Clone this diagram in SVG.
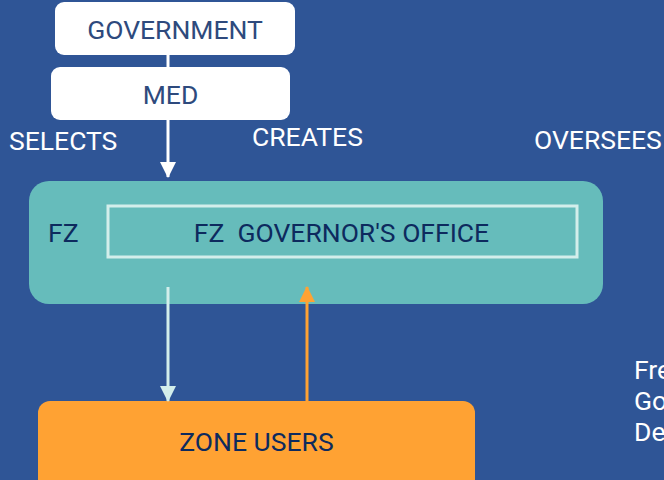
<svg xmlns="http://www.w3.org/2000/svg" width="664" height="480" viewBox="0 0 664 480">
<defs>
<style>
.t{font-family:Roboto,"Liberation Sans",sans-serif;font-size:26.5px}
.w{fill:#ffffff}
.n{fill:#2E4A7D}
.d{fill:#0D2A5E}
</style>
<marker id="aw" markerUnits="userSpaceOnUse" markerWidth="16" markerHeight="16" refX="15" refY="8" orient="auto"><path d="M0,0 L16,8 L0,16 Z" fill="#ffffff"/></marker>
<marker id="al" markerUnits="userSpaceOnUse" markerWidth="16" markerHeight="16" refX="15" refY="8" orient="auto"><path d="M0,0 L16,8 L0,16 Z" fill="#D3EEEB"/></marker>
<marker id="ao" markerUnits="userSpaceOnUse" markerWidth="16" markerHeight="16" refX="15" refY="8" orient="auto"><path d="M0,0 L16,8 L0,16 Z" fill="#FFA233"/></marker>
</defs>
<rect width="664" height="480" fill="#2F5596"/>
<g id="government">
<rect x="55" y="2" width="240" height="53" rx="9" fill="#ffffff"/>
<text class="t n" x="175" y="39" text-anchor="middle">GOVERNMENT</text>
</g>
<g id="med">
<rect x="51" y="67" width="239" height="53" rx="9" fill="#ffffff"/>
<text class="t n" x="170.5" y="104" text-anchor="middle">MED</text>
</g>
<g id="labels">
<text class="t w" x="9" y="150">SELECTS</text>
<text class="t w" x="252" y="146">CREATES</text>
<text class="t w" x="534" y="149">OVERSEES</text>
<text class="t w" x="634" y="379">Fre</text>
<text class="t w" x="634" y="410">Go</text>
<text class="t w" x="634" y="441">De</text>
</g>
<g id="fz">
<rect x="29" y="181" width="574" height="123" rx="20" fill="#66BCBB"/>
<text class="t d" x="48" y="242">FZ</text>
</g>
<g id="fz-office">
<rect x="108" y="206" width="469" height="51" fill="none" stroke="#D3EEEB" stroke-width="3"/>
<text class="t d" x="341.5" y="242" text-anchor="middle" xml:space="preserve">FZ  GOVERNOR'S OFFICE</text>
</g>
<g id="zone-users">
<rect x="38" y="401" width="437" height="100" rx="12" fill="#FFA233"/>
<text class="t d" x="256.5" y="451" text-anchor="middle">ZONE USERS</text>
</g>
<g id="connectors">
<line x1="168" y1="55" x2="168" y2="67" stroke="#ffffff" stroke-width="3"/>
<line x1="168" y1="120" x2="168" y2="177" stroke="#ffffff" stroke-width="3" marker-end="url(#aw)"/>
<line x1="168" y1="287" x2="168" y2="401" stroke="#D3EEEB" stroke-width="3" marker-end="url(#al)"/>
<line x1="307" y1="402" x2="307" y2="287" stroke="#FFA233" stroke-width="3" marker-end="url(#ao)"/>
</g>
</svg>
